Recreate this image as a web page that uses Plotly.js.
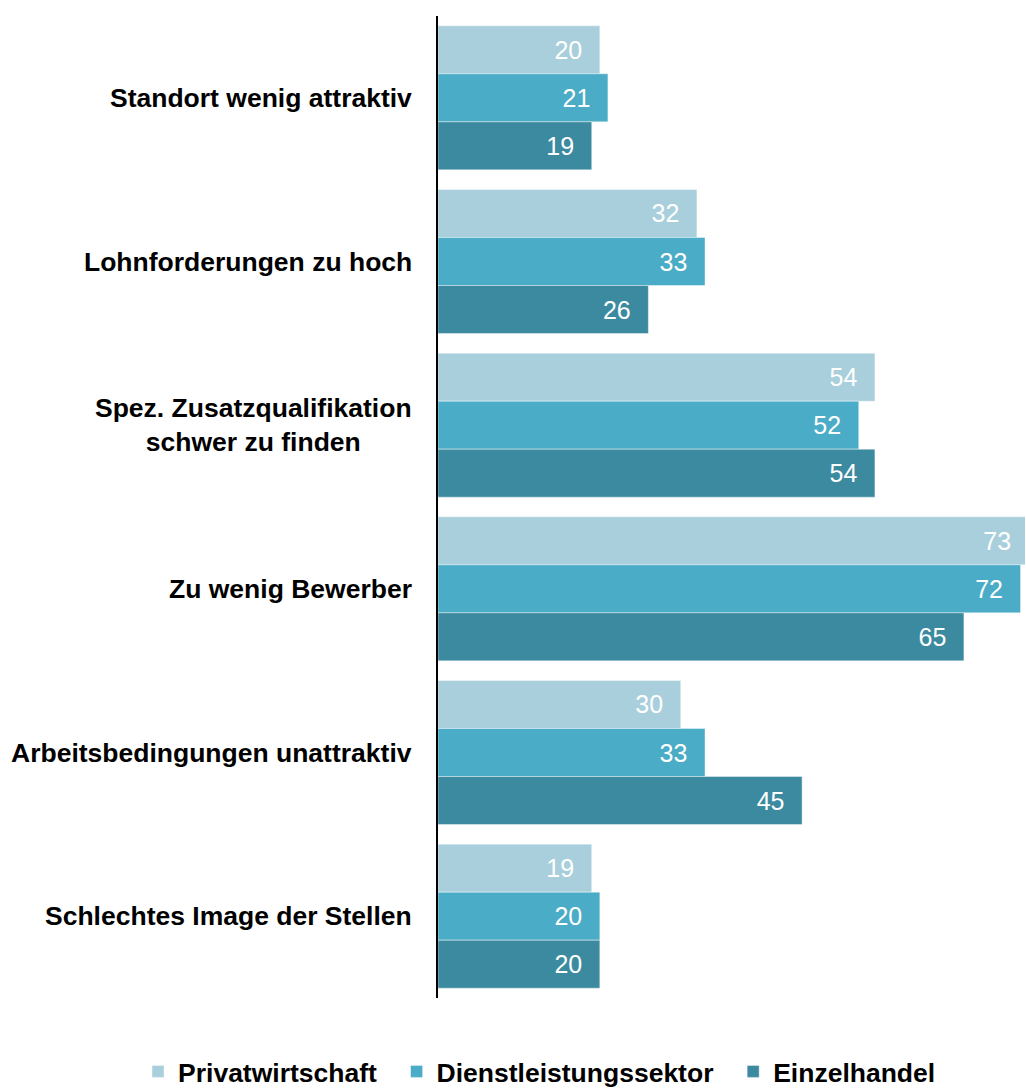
<!DOCTYPE html>
<html>
<head>
<meta charset="utf-8">
<script src="https://cdn.plot.ly/plotly-3.0.1.min.js"></script>
<style>
html,body{margin:0;padding:0;background:#fff;}
#chart{width:1026px;height:1089px;}
</style>
</head>
<body>
<div id="chart"></div>
<script>
var categories = [
  "Standort wenig attraktiv",
  "Lohnforderungen zu hoch",
  "Spez. Zusatzqualifikation<br>schwer zu finden",
  "Zu wenig Bewerber",
  "Arbeitsbedingungen unattraktiv",
  "Schlechtes Image der Stellen"
];
var seriesNames = ["Privatwirtschaft", "Dienstleistungssektor", "Einzelhandel"];
var privatwirtschaft = [20, 32, 54, 73, 30, 19];
var dienstleistungssektor = [21, 33, 52, 72, 33, 20];
var einzelhandel = [19, 26, 54, 65, 45, 20];
var seriesValues = [privatwirtschaft, dienstleistungssektor, einzelhandel];
var colors = ["#A9CFDC", "#4AACC6", "#3C8AA0"];

var FONT = "Liberation Sans, Arial, sans-serif";

var traces = seriesValues.map(function (vals, i) {
  return {
    type: "bar",
    orientation: "h",
    name: seriesNames[i] + "\u00a0\u00a0",
    x: vals,
    y: categories,
    marker: {color: colors[i], line: {color: "rgba(255,255,255,0.5)", width: 0.8}},
    text: vals.map(function (v) { return v + "\u2002\u200a"; }),
    textposition: "inside",
    insidetextanchor: "end",
    textfont: {family: FONT, size: 25, color: "#ffffff"},
    constraintext: "none",
    cliponaxis: true,
    hoverinfo: "x+name"
  };
});

var annotations = categories.map(function (c) {
  return {
    xref: "paper", x: 0, xshift: -24, xanchor: "right",
    yref: "y", y: c, yanchor: "middle",
    text: "<b>" + c + "</b>",
    align: "center",
    showarrow: false,
    font: {family: FONT, size: 26.5, color: "#000000"}
  };
});

var layout = {
  width: 1026,
  height: 1089,
  margin: {l: 438, r: 1, t: 16, b: 91, pad: 0, autoexpand: false},
  paper_bgcolor: "#ffffff",
  plot_bgcolor: "#ffffff",
  barmode: "group",
  bargap: 0.12,
  bargroupgap: 0,
  font: {family: FONT, color: "#000"},
  xaxis: {
    range: [0, 72.55],
    showgrid: false,
    zeroline: false,
    showticklabels: false,
    showline: false,
    ticks: ""
  },
  yaxis: {
    type: "category",
    autorange: "reversed",
    showgrid: false,
    zeroline: false,
    showticklabels: false,
    showline: true,
    linecolor: "#000000",
    linewidth: 2,
    ticks: ""
  },
  showlegend: true,
  legend: {
    orientation: "h",
    xref: "paper", x: -0.511, xanchor: "left",
    yref: "paper", y: -0.075, yanchor: "middle",
    font: {family: FONT, size: 26.5, color: "#000000", weight: "bold"},
    itemclick: false,
    traceorder: "normal"
  },
  annotations: annotations
};

Plotly.newPlot("chart", traces, layout, {displayModeBar: false, staticPlot: true});
</script>
</body>
</html>
